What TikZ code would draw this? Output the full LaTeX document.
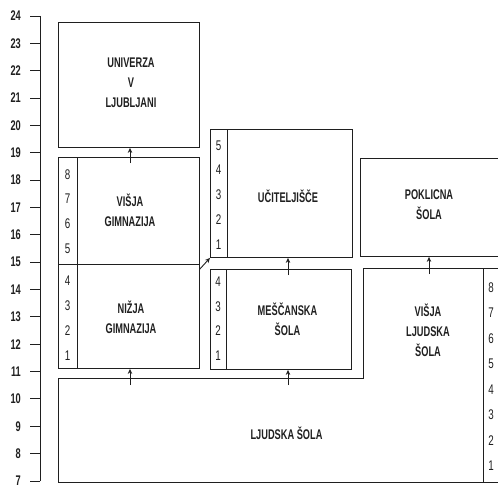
\documentclass[tikz,border=0pt]{standalone}
\usepackage{fontspec}
\setmainfont{Liberation Sans}
\newfontfamily\cond{Liberation Sans}[FakeStretch=0.7]
\newfontfamily\condb{Liberation Sans Bold}[FakeStretch=0.66]
\usetikzlibrary{arrows.meta,calc}
\definecolor{ink}{gray}{0.12}
\begin{document}
\begin{tikzpicture}[x=1pt,y=-1pt,
  ln/.style={draw=ink,line width=0.9pt},
  arr/.style={ln,-{Stealth[length=5pt,width=4.5pt]}},
  lbl/.style={font=\condb\fontsize{14}{20}\selectfont,align=center,text=ink,inner sep=0},
  num/.style={font=\cond\fontsize{14}{15}\selectfont,text=ink,inner sep=0},
  ax/.style={font=\condb\fontsize{14}{16}\selectfont,text=ink,inner sep=0,anchor=east},
  boxr/.style={ln,rectangle,inner sep=0,anchor=north west}]
\useasboundingbox (0,0) rectangle (498,487);
\clip (0,0) rectangle (498,487);
% axis
\foreach \n in {7,...,24} {
  \coordinate (t\n) at (40,{16+(24-\n)*27.35});
  \draw[ln] (t\n) -- ++(-10,0);
  \node[ax] (al\n) at ($(t\n)+(-19,0)$) {\n};
}
\draw[ln] (t24) -- (t7);
% boxes
\node[boxr,minimum width=141pt,minimum height=125pt] (univ) at (58,22) {};
\node[boxr,minimum width=141pt,minimum height=211pt] (gim) at (58,157) {};
\coordinate (gmid) at (0,264);
\draw[ln] (gim.west |- gmid) -- (gim.east |- gmid);
\draw[ln] ($(gim.north west)+(19,0)$) -- ($(gim.south west)+(19,0)$);
\node[boxr,minimum width=142pt,minimum height=128pt] (ucit) at (210,129) {};
\draw[ln] ($(ucit.north west)+(17,0)$) -- ($(ucit.south west)+(17,0)$);
\node[boxr,minimum width=141pt,minimum height=100pt] (mesc) at (210,269) {};
\draw[ln] ($(mesc.north west)+(16,0)$) -- ($(mesc.south west)+(16,0)$);
\node[boxr,minimum width=150pt,minimum height=98pt] (pokl) at (360,158) {};
% ljudska + visja ljudska outline
\coordinate (lj1) at (58,378);
\coordinate (lj2) at (363,378);
\coordinate (lj3) at (363,268);
\coordinate (lj4) at (510,268);
\coordinate (lj5) at (58,482);
\coordinate (lj6) at (510,482);
\coordinate (ljd1) at (483,268);
\coordinate (ljd2) at (483,482);
\draw[ln] (lj4) -- (lj3) -- (lj2) -- (lj1) -- (lj5) -- (lj6);
\draw[ln] (ljd1) -- (ljd2);
% labels
\node[lbl] (univT) at (131,83) {UNIVERZA\\V\\LJUBLJANI};
\node[lbl] (vgimT) at (130,210) {VIŠJA\\GIMNAZIJA};
\node[lbl] (ngimT) at (131,317) {NIŽJA\\GIMNAZIJA};
\node[lbl] (ucitT) at (288,196) {UČITELJIŠČE};
\node[lbl] (mescT) at (287.5,319) {MEŠČANSKA\\ŠOLA};
\node[lbl] (poklT) at (429,205) {POKLICNA\\ŠOLA};
\node[lbl] (vljT) at (428,330) {VIŠJA\\LJUDSKA\\ŠOLA};
\node[lbl] (ljT) at (286.5,433) {LJUDSKA ŠOLA};
% numbers
\foreach \n/\y in {8/175,7/199,6/224,5/249,4/281,3/306,2/331,1/356}
  \node[num] (g\n) at (67.5,\y) {\n};
\foreach \n/\y in {5/146,4/170,3/195,2/220,1/245}
  \node[num] (u\n) at (218.5,\y) {\n};
\foreach \n/\y in {4/282,3/307,2/331,1/356}
  \node[num] (m\n) at (218,\y) {\n};
\foreach \n/\y in {8/288,7/313,6/339,5/364,4/390,3/415,2/441,1/466}
  \node[num] (r\n) at (491,\y) {\n};
% connectors
\coordinate (ax1) at (130,0);
\coordinate (ax2) at (288,0);
\coordinate (ax3) at (429,0);
\draw[arr] ($(gim.north -| ax1)+(0,6)$) -- (univ.south -| ax1);
\draw[arr] ($(lj1 -| ax1)+(0,7)$) -- (gim.south -| ax1);
\draw[arr] ($(lj1 -| ax2)+(0,7)$) -- (mesc.south -| ax2);
\draw[arr] ($(mesc.north -| ax2)+(0,6)$) -- (ucit.south -| ax2);
\draw[arr] ($(lj3 -| ax3)+(0,6)$) -- (pokl.south -| ax3);
\draw[arr] ($(gim.east |- gmid)+(0,5)$) -- (ucit.south west);
\end{tikzpicture}
\end{document}
